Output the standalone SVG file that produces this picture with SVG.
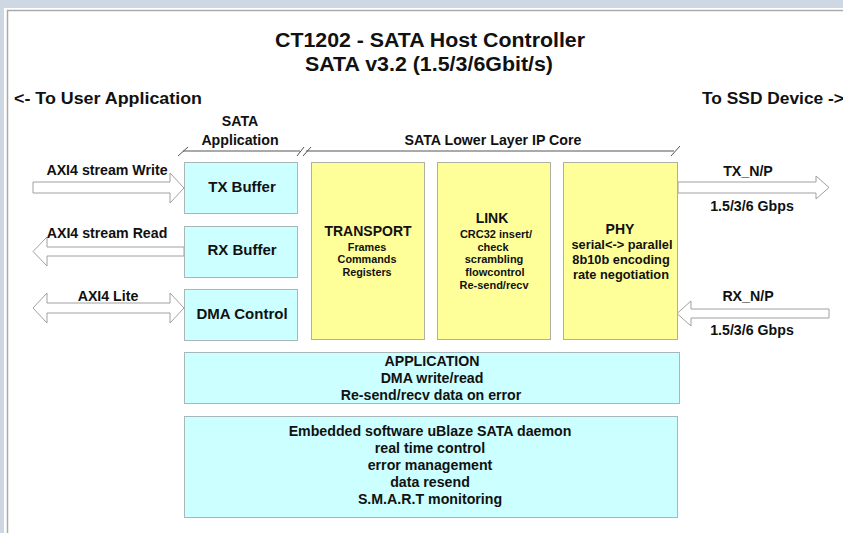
<svg xmlns="http://www.w3.org/2000/svg" width="843" height="533" viewBox="0 0 843 533">
<style>
text{font-family:"Liberation Sans",Arial,sans-serif;font-weight:bold;fill:#111;text-anchor:middle}
.cy{fill:#ccffff;stroke:#a8b8b8;stroke-width:1}
.ye{fill:#ffff99;stroke:#b0b0a0;stroke-width:1}
.ar{fill:#fff;stroke:#a0a0a0;stroke-width:1}
.br{fill:none;stroke:#555;stroke-width:1}
.t15{font-size:15px}
.t14{font-size:14px}
.t13{font-size:14.2px}
.t11{font-size:10.8px}
.tl{font-size:11px}
.t12{font-size:12.8px}
</style>
<rect x="0" y="0" width="843" height="533" fill="#cdd8e3"/>
<rect x="4" y="8" width="839" height="525" fill="#fff"/>
<path d="M7.5 533 V10.5 H843" fill="none" stroke="#aaa" stroke-width="1.5"/>

<g id="title">
<text x="430" y="47" font-size="20" textLength="310" lengthAdjust="spacingAndGlyphs">CT1202 - SATA Host Controller</text>
<text x="429" y="71" font-size="20" textLength="248" lengthAdjust="spacingAndGlyphs">SATA v3.2 (1.5/3/6Gbit/s)</text>
<text x="108" y="104" font-size="17" textLength="188" lengthAdjust="spacingAndGlyphs">&lt;- To User Application</text>
<text x="773" y="104" font-size="17" textLength="142" lengthAdjust="spacingAndGlyphs">To SSD Device -&gt;</text>
</g>

<g id="brackets">
<text class="t13" x="240" y="126">SATA</text>
<text class="t13" x="240" y="145">Application</text>
<text class="t13" x="493" y="145">SATA Lower Layer IP Core</text>
<path class="br" d="M178 156 L188 147 M183 151 H300 M297 156 L304 147 M303 156 L311 147 M306 151 H674 M671 156 L680 146"/>
</g>

<g id="connectors">
<path class="ar" d="M33 182 H170 V173 L184 188 L170 203 V193 H33 Z"/>
<path class="ar" d="M184 247 H47 V237 L33 251.5 L47 266 V256 H184 Z"/>
<path class="ar" d="M47 303 H170 V293 L184 308 L170 323 V313 H47 V323 L33 308 L47 293 Z"/>
<path class="ar" d="M678 182 H816 V176 L829 187.5 L816 199 V193 H678 Z"/>
<path class="ar" d="M829 309 H691 V301 L677 313.5 L691 326 V318 H829 Z"/>
<text class="t13" x="107" y="175">AXI4 stream Write</text>
<text class="t13" x="107" y="238">AXI4 stream Read</text>
<text class="t13" x="108" y="301">AXI4 Lite</text>
<text class="t13" x="748" y="176">TX_N/P</text>
<text class="t13" x="752" y="211">1.5/3/6 Gbps</text>
<text class="t13" x="748" y="301">RX_N/P</text>
<text class="t13" x="752" y="335">1.5/3/6 Gbps</text>
</g>

<g id="tx-buffer">
<rect class="cy" x="184.5" y="162.5" width="113" height="51"/>
<text class="t15" x="242" y="192">TX Buffer</text>
</g>
<g id="rx-buffer">
<rect class="cy" x="184.5" y="226.5" width="113" height="51"/>
<text class="t15" x="242" y="255">RX Buffer</text>
</g>
<g id="dma-control">
<rect class="cy" x="184.5" y="289.5" width="113" height="51"/>
<text class="t15" x="242" y="319">DMA Control</text>
</g>

<g id="transport">
<rect class="ye" x="311.5" y="162.5" width="113" height="177"/>
<text class="t14" x="368" y="236">TRANSPORT</text>
<text class="t11" x="367" y="251">Frames</text>
<text class="t11" x="367" y="263">Commands</text>
<text class="t11" x="367" y="276">Registers</text>
</g>
<g id="link">
<rect class="ye" x="437.5" y="162.5" width="113" height="177"/>
<text class="t14" x="492" y="223">LINK</text>
<text class="tl" x="496" y="238">CRC32 insert/</text>
<text class="tl" x="493" y="251">check</text>
<text class="tl" x="494" y="263">scrambling</text>
<text class="tl" x="495" y="276">flowcontrol</text>
<text class="tl" x="494" y="289">Re-send/recv</text>
</g>
<g id="phy">
<rect class="ye" x="563.5" y="162.5" width="114" height="177"/>
<text class="t14" x="620" y="234">PHY</text>
<text class="t12" x="622" y="249">serial&lt;-&gt; parallel</text>
<text class="t12" x="621" y="264">8b10b encoding</text>
<text class="t12" x="621" y="279">rate negotiation</text>
</g>

<g id="application">
<rect class="cy" x="184.5" y="352.5" width="495" height="51"/>
<text class="t13" x="432" y="366">APPLICATION</text>
<text class="t13" x="432" y="383">DMA write/read</text>
<text class="t13" x="431" y="400">Re-send/recv data on error</text>
</g>
<g id="embedded">
<rect class="cy" x="184.5" y="416.5" width="493" height="101"/>
<text class="t13" x="430" y="436">Embedded software uBlaze SATA daemon</text>
<text class="t13" x="430" y="453">real time control</text>
<text class="t13" x="430" y="470">error management</text>
<text class="t13" x="430" y="487">data resend</text>
<text class="t13" x="430" y="504">S.M.A.R.T monitoring</text>
</g>
</svg>
